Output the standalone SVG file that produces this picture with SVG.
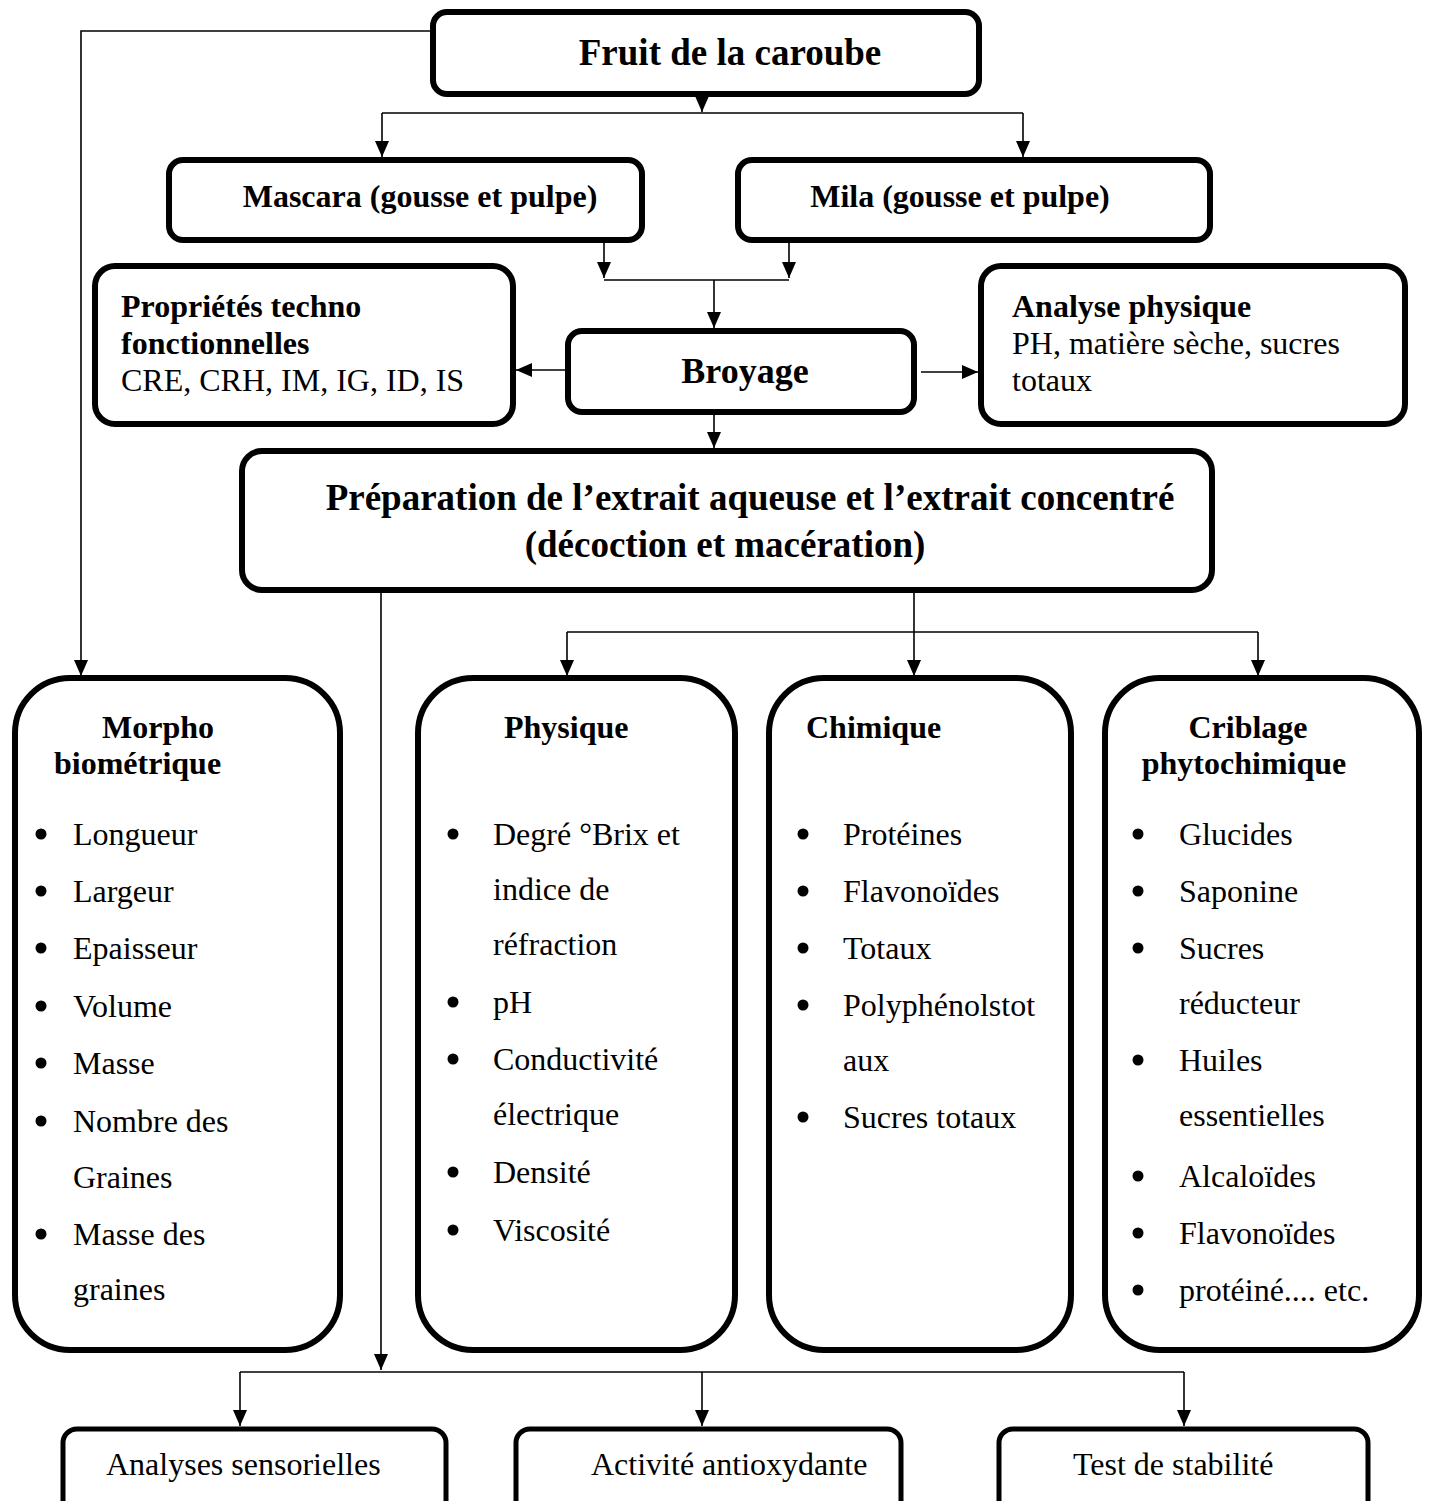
<svg xmlns="http://www.w3.org/2000/svg" width="1431" height="1501" viewBox="0 0 1431 1501">
<style>
.box{fill:#fff;stroke:#000;stroke-width:6}
.sbox{fill:#fff;stroke:#000;stroke-width:5}
.con{fill:none;stroke:#000;stroke-width:1.6}
.t{font-family:"Liberation Serif","Times New Roman",serif;font-size:32px;fill:#000}
.b{font-weight:bold}
.big{font-family:"Liberation Serif","Times New Roman",serif;font-size:37px;font-weight:bold;fill:#000}
.m{text-anchor:middle}
.dot{fill:#000}
</style>
<defs>
<marker id="ah" markerUnits="userSpaceOnUse" markerWidth="16" markerHeight="14" refX="16" refY="7" orient="auto">
<path d="M0,0 L16,7 L0,14 z" fill="#000"/>
</marker>
</defs>
<rect width="1431" height="1501" fill="#fff"/>
<g id="connectors">
<path class="con" d="M433,31 H81 V676" marker-end="url(#ah)"/>
<path class="con" d="M702,77 V112" marker-end="url(#ah)"/>
<path class="con" d="M382,113 H1023"/>
<path class="con" d="M382,113 V157" marker-end="url(#ah)"/>
<path class="con" d="M1023,113 V157" marker-end="url(#ah)"/>
<path class="con" d="M604,243 V278" marker-end="url(#ah)"/>
<path class="con" d="M789,243 V278" marker-end="url(#ah)"/>
<path class="con" d="M604,280 H789"/>
<path class="con" d="M714,280 V328" marker-end="url(#ah)"/>
<path class="con" d="M566,370 H516" marker-end="url(#ah)"/>
<path class="con" d="M921,372 H978" marker-end="url(#ah)"/>
<path class="con" d="M714,415 V448" marker-end="url(#ah)"/>
<path class="con" d="M381,593 V1370" marker-end="url(#ah)"/>
<path class="con" d="M240,1372 H1184"/>
<path class="con" d="M240,1372 V1426" marker-end="url(#ah)"/>
<path class="con" d="M702,1372 V1426" marker-end="url(#ah)"/>
<path class="con" d="M1184,1372 V1426" marker-end="url(#ah)"/>
<path class="con" d="M914,593 V632"/>
<path class="con" d="M567,632 H1258"/>
<path class="con" d="M567,632 V676" marker-end="url(#ah)"/>
<path class="con" d="M914,632 V676" marker-end="url(#ah)"/>
<path class="con" d="M1258,632 V676" marker-end="url(#ah)"/>
</g>
<g id="fruit">
<rect class="box" x="433" y="12" width="546" height="82" rx="14"/>
<text class="big m" x="730" y="65">Fruit de la caroube</text>
</g>
<g id="mascara">
<rect class="box" x="169" y="160" width="473" height="80" rx="14"/>
<text class="t b m" x="420" y="207">Mascara (gousse et pulpe)</text>
</g>
<g id="mila">
<rect class="box" x="738" y="160" width="472" height="80" rx="14"/>
<text class="t b m" x="960" y="207">Mila (gousse et pulpe)</text>
</g>
<g id="proprietes">
<rect class="box" x="95" y="266" width="418" height="158" rx="20"/>
<text class="t b" x="121" y="317">Propriétés techno</text>
<text class="t b" x="121" y="354">fonctionnelles</text>
<text class="t" x="121" y="391">CRE, CRH, IM, IG, ID, IS</text>
</g>
<g id="broyage">
<rect class="box" x="568" y="331" width="346" height="81" rx="14"/>
<text class="t b m" x="745" y="383" style="font-size:36px">Broyage</text>
</g>
<g id="analyse">
<rect class="box" x="981" y="266" width="424" height="158" rx="20"/>
<text class="t b" x="1012" y="317">Analyse physique</text>
<text class="t" x="1012" y="354">PH, matière sèche, sucres</text>
<text class="t" x="1012" y="391">totaux</text>
</g>
<g id="preparation">
<rect class="box" x="242" y="451" width="970" height="139" rx="20"/>
<text class="big m" x="750" y="510">Préparation de l’extrait aqueuse et l’extrait concentré</text>
<text class="big m" x="725" y="557">(décoction et macération)</text>
</g>
<g id="morpho">
<rect class="box" x="15" y="678" width="325" height="672" rx="55"/>
<text class="t b" x="102" y="738">Morpho</text>
<text class="t b" x="54" y="774">biométrique</text>
<circle class="dot" cx="41" cy="834" r="5.5"/>
<circle class="dot" cx="41" cy="891" r="5.5"/>
<circle class="dot" cx="41" cy="948" r="5.5"/>
<circle class="dot" cx="41" cy="1006" r="5.5"/>
<circle class="dot" cx="41" cy="1063" r="5.5"/>
<circle class="dot" cx="41" cy="1121" r="5.5"/>
<circle class="dot" cx="41" cy="1234" r="5.5"/>
<text class="t" x="73" y="845">Longueur</text>
<text class="t" x="73" y="902">Largeur</text>
<text class="t" x="73" y="959">Epaisseur</text>
<text class="t" x="73" y="1017">Volume</text>
<text class="t" x="73" y="1074">Masse</text>
<text class="t" x="73" y="1132">Nombre des</text>
<text class="t" x="73" y="1188">Graines</text>
<text class="t" x="73" y="1245">Masse des</text>
<text class="t" x="73" y="1300">graines</text>
</g>
<g id="physique">
<rect class="box" x="418" y="678" width="317" height="672" rx="55"/>
<text class="t b" x="504" y="738">Physique</text>
<circle class="dot" cx="453" cy="834" r="5.5"/>
<circle class="dot" cx="453" cy="1002" r="5.5"/>
<circle class="dot" cx="453" cy="1059" r="5.5"/>
<circle class="dot" cx="453" cy="1172" r="5.5"/>
<circle class="dot" cx="453" cy="1230" r="5.5"/>
<text class="t" x="493" y="845">Degré °Brix et</text>
<text class="t" x="493" y="900">indice de</text>
<text class="t" x="493" y="955">réfraction</text>
<text class="t" x="493" y="1013">pH</text>
<text class="t" x="493" y="1070">Conductivité</text>
<text class="t" x="493" y="1125">électrique</text>
<text class="t" x="493" y="1183">Densité</text>
<text class="t" x="493" y="1241">Viscosité</text>
</g>
<g id="chimique">
<rect class="box" x="769" y="678" width="302" height="672" rx="55"/>
<text class="t b" x="806" y="738">Chimique</text>
<circle class="dot" cx="803" cy="834" r="5.5"/>
<circle class="dot" cx="803" cy="891" r="5.5"/>
<circle class="dot" cx="803" cy="948" r="5.5"/>
<circle class="dot" cx="803" cy="1005" r="5.5"/>
<circle class="dot" cx="803" cy="1117" r="5.5"/>
<text class="t" x="843" y="845">Protéines</text>
<text class="t" x="843" y="902">Flavonoïdes</text>
<text class="t" x="843" y="959">Totaux</text>
<text class="t" x="843" y="1016">Polyphénolstot</text>
<text class="t" x="843" y="1071">aux</text>
<text class="t" x="843" y="1128">Sucres totaux</text>
</g>
<g id="criblage">
<rect class="box" x="1105" y="678" width="314" height="672" rx="55"/>
<text class="t b m" x="1248" y="738">Criblage</text>
<text class="t b m" x="1244" y="774">phytochimique</text>
<circle class="dot" cx="1138" cy="834" r="5.5"/>
<circle class="dot" cx="1138" cy="891" r="5.5"/>
<circle class="dot" cx="1138" cy="948" r="5.5"/>
<circle class="dot" cx="1138" cy="1060" r="5.5"/>
<circle class="dot" cx="1138" cy="1176" r="5.5"/>
<circle class="dot" cx="1138" cy="1233" r="5.5"/>
<circle class="dot" cx="1138" cy="1290" r="5.5"/>
<text class="t" x="1179" y="845">Glucides</text>
<text class="t" x="1179" y="902">Saponine</text>
<text class="t" x="1179" y="959">Sucres</text>
<text class="t" x="1179" y="1014">réducteur</text>
<text class="t" x="1179" y="1071">Huiles</text>
<text class="t" x="1179" y="1126">essentielles</text>
<text class="t" x="1179" y="1187">Alcaloïdes</text>
<text class="t" x="1179" y="1244">Flavonoïdes</text>
<text class="t" x="1179" y="1301">protéiné.... etc.</text>
</g>
<g id="sensorielles">
<rect class="sbox" x="63" y="1429" width="383" height="110" rx="14"/>
<text class="t" x="106" y="1475">Analyses sensorielles</text>
</g>
<g id="antioxydante">
<rect class="sbox" x="516" y="1429" width="385" height="110" rx="14"/>
<text class="t" x="591" y="1475">Activité antioxydante</text>
</g>
<g id="stabilite">
<rect class="sbox" x="999" y="1429" width="369" height="110" rx="14"/>
<text class="t" x="1073" y="1475">Test de stabilité</text>
</g>
</svg>
